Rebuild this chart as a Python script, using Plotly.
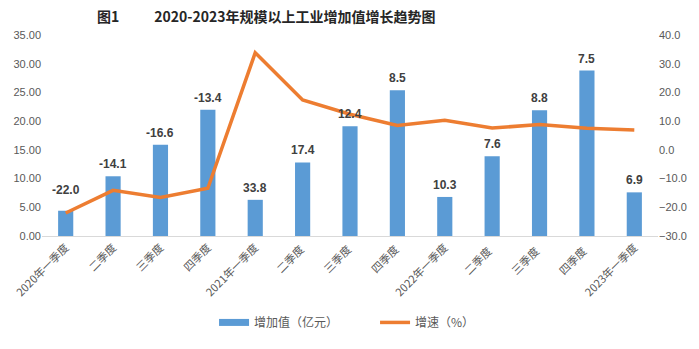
import plotly.graph_objects as go

# Quarterly industrial value added (100 million yuan) and YoY growth (%)
quarters = ["2020年一季度", "二季度", "三季度", "四季度",
            "2021年一季度", "二季度 ", "三季度 ", "四季度 ",
            "2022年一季度", "二季度  ", "三季度  ", "四季度  ",
            "2023年一季度"]
value_added = [4.4, 10.4, 15.9, 22.0, 6.3, 12.8, 19.1, 25.4, 6.8, 13.9, 21.9, 28.8, 7.6]
growth_rate = [-22.0, -14.1, -16.6, -13.4, 33.8, 17.4, 12.4, 8.5, 10.3, 7.6, 8.8, 7.5, 6.9]

BLUE = "#5B9BD5"
ORANGE = "#ED7D31"
TICK_GRAY = "#595959"
FONT = "Liberation Sans, Noto Sans CJK SC, sans-serif"
CJK = "Noto Sans CJK SC, sans-serif"

fig = go.Figure()
fig.add_trace(go.Bar(
    x=quarters, y=value_added, name="增加值（亿元）",
    marker=dict(color=BLUE, line=dict(width=0)),
    yaxis="y", showlegend=False, legendgroup="va",
))
# Wide swatch legend key for the bars
fig.add_trace(go.Scatter(
    x=[None], y=[None], name="增加值（亿元）", mode="lines",
    line=dict(color=BLUE, width=7), legendgroup="va", yaxis="y",
))
fig.add_trace(go.Scatter(
    x=quarters, y=growth_rate, name="增速（%）",
    mode="lines", line=dict(color=ORANGE, width=3.5),
    yaxis="y2",
))

# Growth labels sit above each bar
label_shift = [12, 3, 3, 3, 3, 3, 3, 3, 3, 3, 3, 3, 3]
for q, v, g, s in zip(quarters, value_added, growth_rate, label_shift):
    fig.add_annotation(
        x=q, y=v, xref="x", yref="y", text=f"{g:.1f}",
        showarrow=False, yanchor="bottom", yshift=s,
        font=dict(family=FONT, size=12, color="#404040", weight="bold"),
    )

fig.update_layout(
    width=699, height=349,
    margin=dict(l=38, r=38, t=35, b=109),
    paper_bgcolor="white", plot_bgcolor="white",
    bargap=0.68,
    showlegend=True,
    legend=dict(
        orientation="h", x=(212 - 38) / 623, xanchor="left", y=-0.43, yanchor="middle",
        font=dict(family=CJK, size=12, color=TICK_GRAY),
        itemwidth=30, tracegroupgap=0,
        entrywidth=116, entrywidthmode="pixels",
    ),
    title=dict(
        text="图1" + "\u00a0" * 11 + "2020-2023年规模以上工业增加值增长趋势图",
        x=97 / 699, xanchor="left", y=0.952, yanchor="middle",
        font=dict(family=CJK, size=14, color="#262626", weight="bold"),
    ),
    xaxis=dict(
        tickangle=-45, showgrid=False, showline=True, linecolor="#D9D9D9",
        linewidth=1, ticks="", tickfont=dict(family=CJK, size=11, color=TICK_GRAY),
    ),
    yaxis=dict(
        range=[0, 35], dtick=5, tickformat=".2f", showgrid=False,
        zeroline=False, showline=False, ticks="",
        tickfont=dict(family=FONT, size=11, color=TICK_GRAY),
    ),
    yaxis2=dict(
        range=[-30, 40], dtick=10, tickformat=".1f", overlaying="y", side="right",
        showgrid=False, zeroline=False, showline=False, ticks="",
        tickfont=dict(family=FONT, size=11, color=TICK_GRAY),
    ),
)

fig.write_html("out.html")
